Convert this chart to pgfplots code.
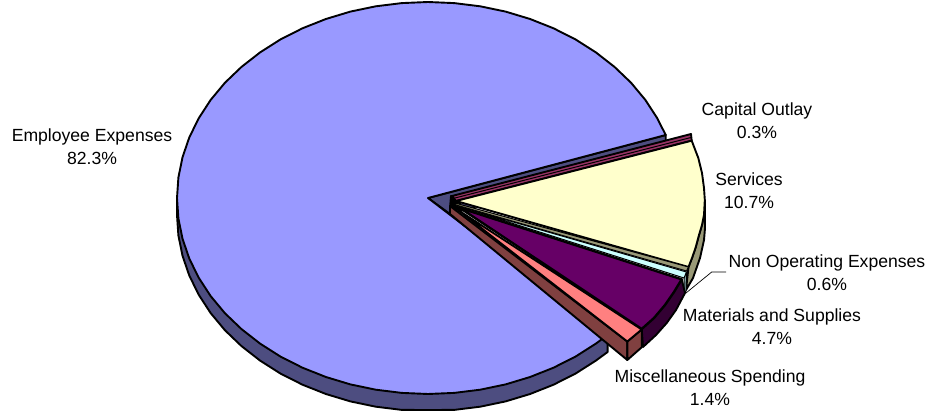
\documentclass[border=0pt]{standalone}
\usepackage{pgfplots}
\pgfplotsset{compat=1.18}
\usepackage{fontspec}
\setmainfont{Liberation Sans}
\definecolor{bigtop}{HTML}{9999FF}
\definecolor{bigwall}{HTML}{4D4D80}
\definecolor{maroon}{HTML}{993366}
\definecolor{yellowtop}{HTML}{FFFFCC}
\definecolor{yellowwall}{HTML}{999977}
\definecolor{cyantop}{HTML}{CCFFFF}
\definecolor{cyanwall}{HTML}{8FB8B8}
\definecolor{purpletop}{HTML}{660066}
\definecolor{purplewall}{HTML}{330033}
\definecolor{pinktop}{HTML}{FF8080}
\definecolor{pinkwall}{HTML}{804040}
\newcommand{\lab}[4]{%
  \node[font=\fontsize{17.6}{20}\selectfont,text=black,inner sep=0pt,anchor=base] at (axis cs:#1,#2) {#3};
  \node[font=\fontsize{17.6}{20}\selectfont,text=black,inner sep=0pt,anchor=base] at (axis cs:#1,#2+23.5) {#4};}
\begin{document}
\begin{tikzpicture}
\path[use as bounding box] (0,0) rectangle (930pt,412pt);
\begin{axis}[
    anchor=south west, at={(0,0)},
    x=1pt, y=1pt, y dir=reverse,
    xmin=0, xmax=930, ymin=0, ymax=412,
    hide axis, clip=false,
    every axis plot/.append style={draw=black, line width=1.9pt, line join=round},
]
% employee expenses: outer wall
\addplot[fill=bigwall] coordinates {
 (177,198)(177,215)(178.4,235.5)(182.5,255.7)(189.3,275.6)(198.7,294.7)(210.6,313)(224.9,330.2)
 (241.5,346.1)(260.1,360.6)(280.5,373.6)(302.5,384.7)(325.9,394)(350.4,401.4)(375.8,406.7)
 (401.8,409.9)(428,410)(454.2,409.9)(480.2,406.7)(505.6,401.4)(530.1,394)(553.5,384.7)
 (575.5,373.6)(595.9,360.6)(607.6,352)(607.6,335)} -- cycle;
% employee expenses: cut wall in the wedge
\addplot[fill=bigwall] coordinates {(428,198)(665.7,135)(665.7,152)(450,214)} -- cycle;
% employee expenses: top
\addplot[fill=bigtop] coordinates {
 (428,198)(665.7,135)(657.3,118.3)(645.4,100)(631.1,82.8)(614.5,66.9)(595.9,52.4)(575.5,39.4)
 (553.5,28.3)(530.1,19)(505.6,11.6)(480.2,6.3)(454.2,3.1)(428,2)(401.8,3.1)(375.8,6.3)
 (350.4,11.6)(325.9,19)(302.5,28.3)(280.5,39.4)(260.1,52.4)(241.5,66.9)(224.9,82.8)(210.6,100)
 (198.7,118.3)(189.3,137.4)(182.5,157.3)(178.4,177.5)(177,198)(178.4,218.5)(182.5,238.7)
 (189.3,258.6)(198.7,277.7)(210.6,296)(224.9,313.2)(241.5,329.1)(260.1,343.6)(280.5,356.6)
 (302.5,367.7)(325.9,377)(350.4,384.4)(375.8,389.7)(401.8,392.9)(428,394)(454.2,392.9)
 (480.2,389.7)(505.6,384.4)(530.1,377)(553.5,367.7)(575.5,356.6)(595.9,343.6)(607.6,335)} -- cycle;
% black knot where the small slices meet
\addplot[fill=black] coordinates {(451,196)(458,198)(462,210)(450,208)} -- cycle;
% capital outlay
\addplot[fill=maroon] coordinates {(452,196)(691,134)(691.7,140.7)(456,201)} -- cycle;
\addplot[line width=1pt] coordinates {(453,198.5)(691,137.5)};
% services
\addplot[fill=yellowwall] coordinates {
 (688.5,267)(692,258)(695.5,248)(699,235)(702,225)(704,215)(704.8,200)(705,215)(705,228)(704,240)(700,258)(693,278)(686,290)} -- cycle;
\addplot[fill=yellowtop] coordinates {
 (456,201)(691.7,140.7)(698.3,158)(702,173)(704,188)(704.8,200)(704,215)(702,225)(699,235)(695.5,248)(692,258)(688.5,267)} -- cycle;
\addplot[fill=yellowwall, line width=1pt] coordinates {(455,203)(688.5,267)(686.5,271)(456,205)} -- cycle;
% non operating expenses
\addplot[fill=cyanwall, line width=1pt] coordinates {(684,277)(686.5,272)(686,291)(684,294)} -- cycle;
\addplot[fill=cyantop, line width=1pt] coordinates {(458,206)(686.5,272)(684,278)} -- cycle;
% materials and supplies
\addplot[fill=purplewall] coordinates {
 (681.7,279.3)(685,293)(676,310)(666.7,323)(656,335)(643,347)(641.7,329)} -- cycle;
\addplot[fill=purpletop, line width=2.4pt] coordinates {
 (460,208)(681.7,279.3)(674,292)(665,305)(654,318)(641.7,329)} -- cycle;
% miscellaneous spending
\addplot[fill=pinkwall] coordinates {(450,206)(627.3,341.5)(627.3,360)(450,214)} -- cycle;
\addplot[fill=pinkwall] coordinates {(627.3,341.5)(641.7,329.5)(641.7,347.3)(627.3,360)} -- cycle;
\addplot[fill=pinktop] coordinates {(458,210)(641.7,329.5)(627.3,341.5)} -- cycle;
% leader line
\addplot[line width=0.7pt, line join=miter] coordinates {(686,293)(711.7,272)(726,272)};
\lab{92}{141}{Employee Expenses}{82.3\%}
\lab{757}{115}{Capital Outlay}{0.3\%}
\lab{749}{185}{Services}{10.7\%}
\lab{827}{267}{Non Operating Expenses}{0.6\%}
\lab{772}{321}{Materials and Supplies}{4.7\%}
\lab{710}{382}{Miscellaneous Spending}{1.4\%}
\end{axis}
\end{tikzpicture}
\end{document}
